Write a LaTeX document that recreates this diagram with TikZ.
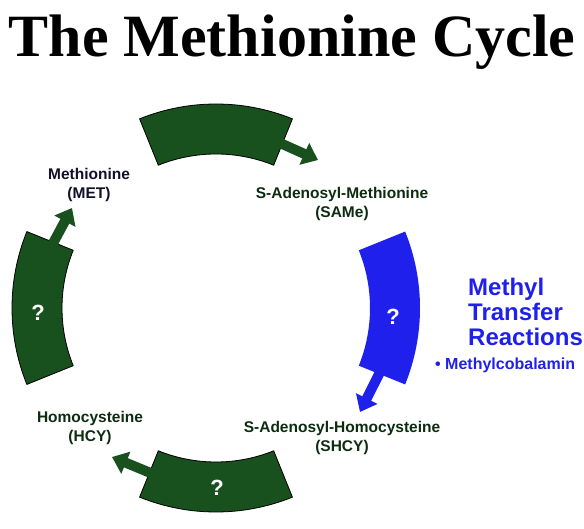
\documentclass[tikz,border=0pt]{standalone}
\usepackage{fontspec}
\setmainfont{Liberation Sans}
\newfontfamily\titlefont{Liberation Serif}
\usetikzlibrary{arrows.meta}
\definecolor{cycgreen}{RGB}{24,80,30}
\definecolor{cycblue}{RGB}{32,32,236}
\definecolor{labgreen}{RGB}{12,44,16}
\definecolor{labnavy}{RGB}{16,16,40}
\tikzset{
  arcseg/.style={draw=black, line width=0.8pt, fill=cycgreen, line join=miter},
  blueseg/.style={fill=cycblue},
  flowarrow/.style={line width=10pt, -{Triangle[length=15pt,width=23pt]}},
  molname/.style={font=\bfseries\fontsize{15.5}{19.5}\selectfont, align=center, inner sep=0pt},
  qmark/.style={text=white, font=\bfseries\fontsize{22}{22}\selectfont, inner sep=0pt}
}
\begin{document}
\begin{tikzpicture}[x=1pt,y=1pt]
\useasboundingbox (0,0) rectangle (584,528);
\coordinate (C) at (216,220);

% title
\node[font=\titlefont\bfseries\fontsize{60}{60}\selectfont, anchor=base, inner sep=0pt] (title) at (292,471) {The Methionine Cycle};

% arc segments
\path[arcseg, shift={(C)}] (68:204pt) arc[start angle=68, end angle=112, radius=204pt] -- (112:154pt) arc[start angle=112, end angle=68, radius=154pt] -- cycle;
\path[arcseg, shift={(C)}] (158:204pt) arc[start angle=158, end angle=202, radius=204pt] -- (202:154pt) arc[start angle=202, end angle=158, radius=154pt] -- cycle;
\path[arcseg, shift={(C)}] (248:204pt) arc[start angle=248, end angle=292, radius=204pt] -- (292:154pt) arc[start angle=292, end angle=248, radius=154pt] -- cycle;
\path[blueseg, shift={(C)}] (-22:204pt) arc[start angle=-22, end angle=22, radius=204pt] -- (22:154pt) arc[start angle=22, end angle=-22, radius=154pt] -- cycle;

% arrow coordinates
\coordinate (topS) at ([shift={(75:179pt)}]C);
\coordinate (topT) at (318,368);
\coordinate (leftS) at ([shift={(165:179pt)}]C);
\coordinate (leftT) at (72,320);
\coordinate (blueS) at ([shift={(-15:179pt)}]C);
\coordinate (blueT) at (360,116);
\coordinate (botS) at ([shift={(255:179pt)}]C);
\coordinate (botT) at (112,71);

\draw[flowarrow, draw=cycgreen, fill=cycgreen] (topS) -- (topT);
\draw[flowarrow, draw=cycgreen, fill=cycgreen] (leftS) -- (leftT);
\draw[flowarrow, draw=cycblue, fill=cycblue] (blueS) -- (blueT);
\draw[flowarrow, draw=cycgreen, fill=cycgreen] (botS) -- (botT);

% question marks
\node[qmark] (q1) at (38,215) {?};
\node[qmark] (q2) at (393,211) {?};
\node[qmark] (q3) at (217,40) {?};

% labels
\node[molname, text=labnavy] (met) at (89,343) {Methionine\\(MET)};
\node[molname, text=labgreen] (same) at (342,324) {S-Adenosyl-Methionine\\(SAMe)};
\node[molname, text=labgreen] (shcy) at (342,90) {S-Adenosyl-Homocysteine\\(SHCY)};
\node[molname, text=labgreen] (hcy) at (90,100) {Homocysteine\\(HCY)};

\node[anchor=north west, align=left, text=cycblue, font=\bfseries\fontsize{24}{25}\selectfont, inner sep=0pt] (mtr) at (468,250.5) {Methyl\\Transfer\\Reactions};
\node[anchor=base west, text=cycblue, font=\bfseries\fontsize{16}{16}\selectfont, inner sep=0pt] (mcb) at (435,158) {\textbullet\ Methylcobalamin};
\end{tikzpicture}
\end{document}
